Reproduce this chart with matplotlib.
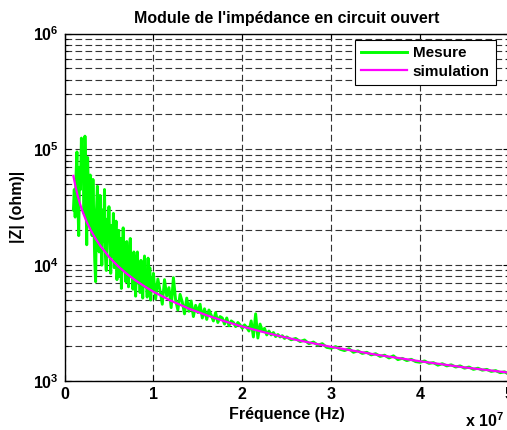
import numpy as np

import matplotlib
matplotlib.use("Agg")
import matplotlib.pyplot as plt
from matplotlib.ticker import LogLocator, NullFormatter


OUTPUT_FILE = "out.png"

# 测量频点 (MHz)：三段等间隔扫频
FREQ_A_MHZ = np.arange(1.0, 10.001, 0.1)
FREQ_B_MHZ = np.arange(10.25, 25.001, 0.25)
FREQ_C_MHZ = np.arange(25.5, 50.001, 0.5)

MESURE_A_KOHM = [
    30, 45, 26, 60, 95, 35, 18, 70, 45, 125,
    60, 90, 28, 130, 55, 15, 85, 40, 22, 60,
    35, 18, 55, 25, 11, 7.2, 30, 48, 20, 13,
    40, 22, 10, 30, 16, 45, 12, 9, 25, 18,
    32, 14, 8.5, 22, 12, 28, 9.5, 15, 24, 7.5,
    13, 20, 8, 17, 6.3, 11, 21, 9, 14, 7.2,
    16, 10, 6.5, 12, 17, 8, 11, 6.2, 13, 9,
    5.4, 10, 13, 7, 9.5, 5.8, 11, 7.5, 5.2, 9,
    12, 6.5, 8.5, 5.3, 11.5, 7, 9.5, 5.0, 7.8, 6.2,
    8.5,
]

MESURE_B_KOHM = [
    5.1, 7.6, 6.0, 4.6, 7.5, 5.4, 6.4, 4.3, 7.8, 5.0,
    4.1, 5.6, 4.8, 3.8, 5.2, 4.0, 4.9, 3.6, 4.5, 3.9,
    4.6, 3.5, 4.2, 3.4, 4.1, 3.7, 3.3, 3.9, 3.2, 3.6,
    3.5, 3.1, 3.5, 3.0, 3.3, 3.2, 2.95, 3.2, 3.05, 2.85,
    3.05, 2.9, 2.7, 3.3, 2.4, 3.8, 2.35, 3.1, 2.7, 2.85,
    2.5, 2.7, 2.5, 2.62, 2.42, 2.52, 2.4, 2.46, 2.33, 2.4,
]

MESURE_C_KOHM = [
    2.27, 2.33, 2.19, 2.26, 2.1, 2.17, 2.04, 2.1, 1.95, 1.92,
    1.98, 1.88, 1.83, 1.9, 1.77, 1.82, 1.73, 1.77, 1.68, 1.72,
    1.63, 1.67, 1.58, 1.65, 1.53, 1.57, 1.5, 1.54, 1.47, 1.45,
    1.49, 1.42, 1.44, 1.37, 1.41, 1.35, 1.38, 1.32, 1.35, 1.29,
    1.32, 1.26, 1.29, 1.24, 1.26, 1.21, 1.23, 1.18, 1.2, 1.14,
]

# 仿真曲线 (MHz, kOhm)
SIM_FREQ_MHZ = [
    1, 1.25, 1.5, 1.75, 2, 2.5, 3, 3.5, 4, 5, 6, 7, 8, 9, 10,
    12, 14, 16, 18, 20, 23, 26, 30, 35, 40, 45, 50,
]
SIM_KOHM = [
    59.0, 47.2, 39.3, 33.7, 29.5, 23.6, 19.7, 16.9, 14.8, 11.8, 9.83, 8.43, 7.38, 6.56, 5.90,
    4.92, 4.21, 3.69, 3.28, 2.95, 2.57, 2.27, 1.97, 1.69, 1.48, 1.31, 1.18,
]

X_TICKS = [0, 1e7, 2e7, 3e7, 4e7, 5e7]
X_TICK_LABELS = ["0", "1", "2", "3", "4", "5"]
Y_TICKS = [1e3, 1e4, 1e5, 1e6]
Y_TICK_LABELS = [r"$10^{3}$", r"$10^{4}$", r"$10^{5}$", r"$10^{6}$"]

FONT_SIZE = 11.5


def setup_style():
    plt.rcParams["font.family"] = ["Liberation Sans", "DejaVu Sans"]
    plt.rcParams["font.weight"] = "bold"
    plt.rcParams["font.size"] = FONT_SIZE
    plt.rcParams["mathtext.fontset"] = "custom"
    plt.rcParams["mathtext.rm"] = "Liberation Sans:bold"
    plt.rcParams["mathtext.bf"] = "Liberation Sans:bold"
    plt.rcParams["mathtext.default"] = "rm"


def plot_impedance():
    setup_style()

    freq_mesure = np.concatenate([FREQ_A_MHZ, FREQ_B_MHZ, FREQ_C_MHZ]) * 1e6
    z_mesure = np.array(MESURE_A_KOHM + MESURE_B_KOHM + MESURE_C_KOHM) * 1e3
    freq_sim = np.array(SIM_FREQ_MHZ) * 1e6
    z_sim = np.array(SIM_KOHM) * 1e3

    fig = plt.figure(figsize=(5.07, 4.30), dpi=100)
    ax = fig.add_axes([64.5 / 507, 49 / 430, 444.5 / 507, 347.5 / 430])

    ax.plot(freq_mesure, z_mesure, color="#00ff00", linewidth=2.1, label="Mesure")
    ax.plot(freq_sim, z_sim, color="#ff00ff", linewidth=1.6, label="simulation")

    ax.set_yscale("log")
    ax.set_xlim(0, 5e7)
    ax.set_ylim(1e3, 1e6)

    ax.set_xticks(X_TICKS)
    ax.set_xticklabels(X_TICK_LABELS)
    ax.set_yticks(Y_TICKS)
    ax.set_yticklabels(Y_TICK_LABELS)
    ax.yaxis.set_minor_locator(LogLocator(base=10, subs=np.arange(2, 10)))
    ax.yaxis.set_minor_formatter(NullFormatter())

    ax.tick_params(which="both", direction="in", top=True, right=True, width=0.8)
    ax.tick_params(which="major", length=4, pad=4, labelsize=FONT_SIZE)
    ax.tick_params(which="minor", length=2.5)

    # 网格：虚线，包括对数轴的次网格
    grid_kw = dict(color="0.2", linewidth=0.8, linestyle=(0, (6, 3)))
    ax.grid(True, which="major", axis="both", **grid_kw)
    ax.grid(True, which="minor", axis="y", **grid_kw)
    ax.set_axisbelow(True)

    for spine in ax.spines.values():
        spine.set_linewidth(1.0)

    ax.set_title("Module de l'impédance en circuit ouvert", fontsize=FONT_SIZE,
                 fontweight="bold", pad=7.5)
    ax.set_xlabel("Fréquence (Hz)", fontsize=FONT_SIZE, fontweight="bold", labelpad=4)
    ax.set_ylabel("|Z| (ohm)|", fontsize=FONT_SIZE, fontweight="bold", labelpad=6)

    fig.text(465 / 507, 0.0, r"x $10^{7}$", fontsize=FONT_SIZE, fontweight="bold",
             ha="left", va="bottom")

    legend = ax.legend(
        loc="upper right",
        bbox_to_anchor=(0.970, 0.981),
        borderaxespad=0,
        fontsize=11,
        frameon=True,
        fancybox=False,
        framealpha=1,
        edgecolor="black",
        handlelength=3.0,
        handletextpad=0.35,
        labelspacing=0.3,
        borderpad=0.4,
    )
    legend.get_frame().set_linewidth(0.8)

    fig.savefig(OUTPUT_FILE, dpi=100)
    plt.close(fig)


if __name__ == "__main__":
    plot_impedance()
